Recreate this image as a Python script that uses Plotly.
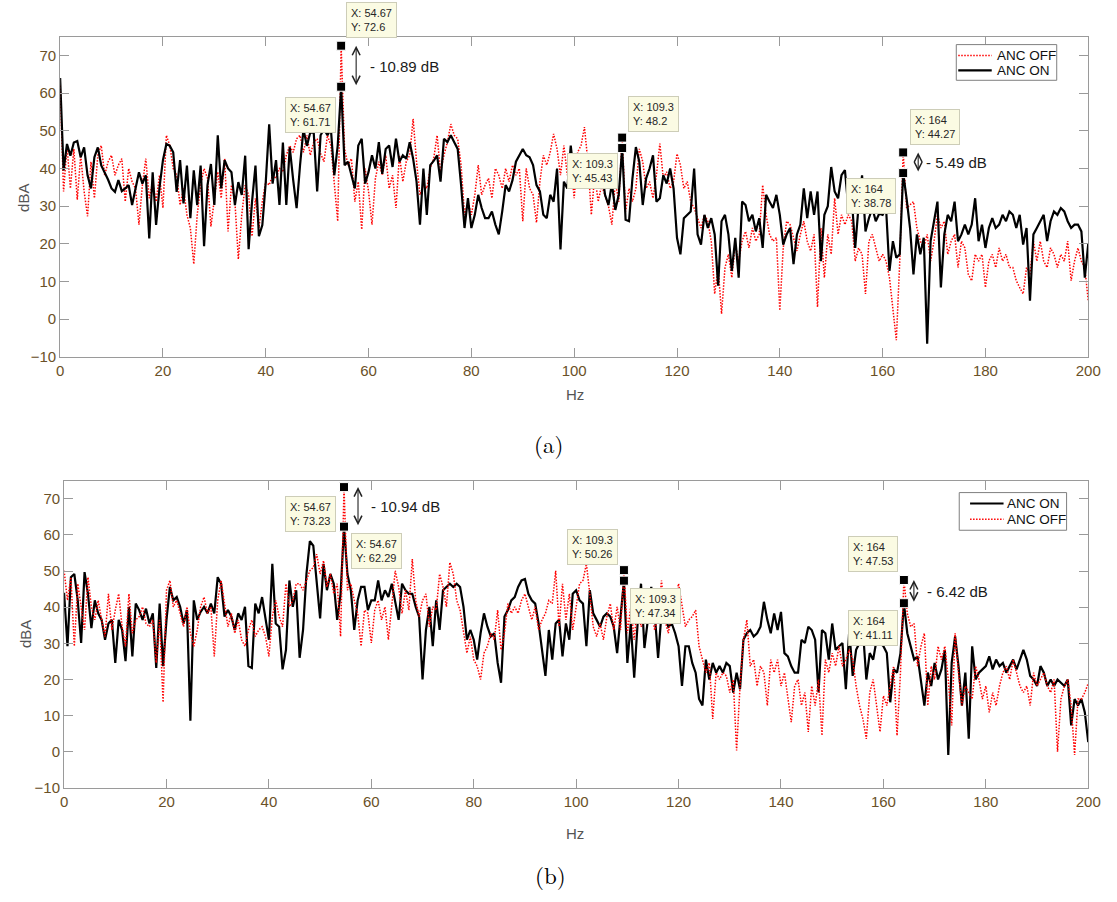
import numpy as np
import plotly.graph_objects as go

# FFT bin spacing of the spectra (Hz) and the 0-200 Hz frequency axis
FREQ_STEP = 2.0 / 3.0
freq = np.arange(301) * FREQ_STEP

# ---- (a) spectra, dBA ----
OFF_A = [
    62, 33.9, 46, 34.7, 45.2, 31.7, 43.5, 33.9, 27.3, 41.8,
    32.1, 43.5, 46.1, 38.2, 41.8, 43.5, 38.2, 40.9, 42.6, 31.2,
    40, 36.5, 34.7, 25.1, 35.6, 42.6, 32.1, 36.5, 31.2, 38.2,
    29.5, 48.8, 46.1, 40, 38.2, 30.3, 34.7, 27.7, 24.2, 14.6,
    27.7, 35.6, 40, 37.4, 24.6, 31.2, 39.1, 32.1, 42.6, 23.3,
    35.6, 31.2, 15.9, 27.7, 35.6, 33, 22, 32.1, 24.2, 31.2,
    36.5, 35.6, 38.2, 37.4, 40, 39.1, 43.5, 46.1, 44.3, 47.9,
    48.8, 44.3, 48.8, 43.5, 47, 47.9, 44, 41.8, 48.8, 46.1,
    35.6, 26, 72.6, 45.2, 40.9, 42.6, 31.2, 36.5, 23.8, 40,
    33.9, 25.1, 37.4, 41.8, 38.2, 43.5, 34.7, 38.2, 29.5, 43.5,
    36.5, 41.8, 43.5, 53.2, 41.8, 33, 35.6, 34.7, 40, 42.6,
    48.8, 39.1, 43.5, 47, 51.8, 48.8, 47.9, 40.9, 27.7, 31.2,
    27.7, 33, 40.9, 33, 35.6, 37.4, 32.1, 40, 38.2, 34.7,
    40, 36.5, 40.9, 38.2, 40, 26, 40, 34.7, 33, 25.6,
    36.5, 43.5, 40.9, 44.3, 49.2, 45.2, 38.2, 46.1, 38.2, 41.8,
    32.1, 44.3, 46.1, 51, 41.8, 27.7, 38.2, 31.2, 35.6, 33,
    30, 25.1, 36.5, 31.2, 48.2, 28.6, 34.7, 31.2, 34.7, 45.2,
    41.8, 34.7, 36.5, 32.1, 38.2, 46.6, 37.4, 39.1, 34.7, 36.5,
    43.9, 40.9, 34.7, 36.5, 31.2, 29.5, 26.8, 24.2, 27.7, 26,
    20.7, 6.7, 13.7, 1.4, 13.7, 17.2, 11, 19.8, 15.4, 20.7,
    23.3, 18.9, 24.2, 20.7, 22.5, 35.6, 27.7, 22.5, 20.7, 21.6,
    2.3, 18.9, 26, 25.1, 21.6, 18.1, 22.5, 26, 20.7, 18.1,
    22.5, 3.2, 24.2, 11, 22.5, 17.2, 32.1, 22.5, 27.7, 25.1,
    27.7, 26, 15.4, 18.9, 17.2, 6.7, 20.7, 22.5, 18.9, 15.4,
    17.2, 15.4, 11, 3.2, -5.6, 15.4, 44.27, 29.5, 30.3, 31.2,
    24.2, 20.7, 18.9, 22.5, 15.4, 20.7, 27.7, 24.2, 26, 17.2,
    20.7, 22.5, 13.7, 20.7, 18.9, 11.9, 10.2, 17.2, 15.4, 17.2,
    8.4, 15.4, 17.2, 13.7, 18.9, 15.4, 17.2, 13.7, 13.7, 10.2,
    8.4, 6.7, 13.7, 11.9, 20.7, 15.4, 20.7, 15.4, 13.7, 18.9,
    17.2, 13.7, 17.2, 15.4, 20.7, 10.2, 15.4, 18.9, 15.4, 13.7, 4.9,
]
ON_A = [
    64, 39.5, 46.5, 43.4, 46.9, 47.3, 43, 45.6, 38.2, 34.7,
    43, 45.6, 40.8, 39, 37, 34.7, 33.8, 36.9, 34, 34.7,
    35.6, 30.3, 35, 39, 36, 38.2, 21.4, 39, 25, 35,
    42.2, 46.5, 46, 44.3, 33.8, 42.2, 30.7, 40.8, 26.8, 39.5,
    30.3, 40.8, 19.4, 35.6, 41.2, 30.3, 48.8, 34.7, 42.2, 40,
    39, 30.3, 36.4, 33, 43.4, 18.6, 31.2, 40.8, 22, 25,
    36.4, 51.7, 36, 42.2, 30.3, 46.9, 30.3, 45.6, 37, 29.5,
    40.8, 50.4, 46, 49.6, 49.5, 33.9, 48.8, 50.5, 48.8, 50.5,
    38.2, 46.1, 61.71, 40.9, 41.8, 38.2, 34.7, 46.1, 47.9, 36,
    39.1, 43.5, 40, 47, 38.6, 45.2, 46.1, 40.4, 47.9, 41.8,
    43.5, 42.6, 47, 42.6, 36.5, 25.1, 40, 27.7, 40.9, 42,
    43.5, 36.5, 47.9, 47, 48.8, 47, 45.2, 35.6, 24.2, 32.1,
    24.2, 27.7, 33, 29.5, 26.8, 26.8, 28.6, 25.1, 22.5, 28.6,
    35.6, 33.9, 36.9, 41.8, 43.5, 45.2, 43.5, 43, 40.9, 35.6,
    33.9, 27.7, 26.8, 33, 31.2, 40, 18.5, 36.5, 34.7, 46.1,
    37.4, 38, 44, 35, 40, 42, 36, 34.7, 40, 33,
    30.3, 36, 29, 33, 45.43, 26.4, 26, 37.4, 45.7, 41.8,
    30.3, 37.4, 40, 43.5, 31.2, 32.1, 38.2, 36, 40, 34.7,
    21.6, 17.2, 26.8, 27.7, 28.6, 40, 22.5, 19.8, 27.7, 24.2,
    26.8, 22.5, 8.9, 26, 27.7, 22.5, 12.8, 21.6, 11, 31.2,
    30.3, 26, 27.7, 23.3, 26.8, 18.9, 33, 31.2, 29.5, 33,
    27.7, 19.8, 22.5, 24.2, 14.6, 22.5, 25.1, 34.7, 26.8, 33.9,
    27.7, 33.9, 15.4, 27.7, 30, 40.4, 33.9, 32.1, 38.2, 39.6,
    29.5, 32.1, 18.9, 30.3, 38.2, 23.3, 26.8, 29.5, 26, 28,
    27.7, 29.5, 12.8, 20.7, 16.3, 17.2, 38.78, 32, 24.2, 11.9,
    22.5, 17.2, 21.6, -6.5, 20.7, 26, 31.2, 8.4, 22.5, 27.7,
    26, 31.2, 20.7, 22.5, 25.1, 22.5, 25.1, 32.1, 20.7, 25.1,
    18.9, 24.2, 26.8, 24.2, 25.1, 27.7, 26, 28.6, 27.7, 24.2,
    27.7, 19.8, 24.2, 4.9, 22.5, 24.2, 26, 27.7, 20.7, 26,
    28.6, 27.7, 29.5, 28.6, 26, 24.2, 25.1, 25.1, 23.3, 11, 20,
]

# ---- (b) spectra, dBA ----
ON_B = [
    44, 29.2, 48.3, 49.2, 41.9, 30.1, 49.7, 43.7, 34.2, 41.9,
    38.3, 36.5, 31, 35.5, 36.5, 24.6, 36.5, 33.7, 25.1, 40.1,
    26.4, 41, 39.2, 36.5, 39.6, 35.5, 38.3, 23.2, 41, 23.7,
    36.5, 45.6, 41.9, 42.8, 40.1, 35.5, 39.2, 8.6, 41.9, 36.5,
    38.7, 40.1, 38.3, 41, 38.3, 48.3, 46.5, 37.4, 39.2, 37.4,
    33.7, 38.3, 36.5, 40.1, 23.7, 23.2, 41, 38.3, 42.8, 36.5,
    31, 52, 35.5, 34.6, 22.8, 28.2, 47.4, 40.1, 44.7, 26,
    33.7, 49.2, 58.3, 57, 47.4, 36.9, 52, 44.7, 49.2, 46.5,
    36.5, 43.7, 62.29, 49.2, 44.7, 33.7, 41.9, 45.6, 45.6, 39.2,
    41.9, 41.9, 47.4, 41.9, 44.7, 42.8, 46.5, 41.9, 36.5, 46.5,
    44.7, 43.7, 43.7, 40.1, 37.4, 20, 33.7, 40.1, 29.2, 41.9,
    33.7, 44.7, 45.6, 46.5, 45.6, 46.5, 45.6, 40.1, 31, 33.7,
    31, 25.5, 32.8, 38.3, 34.6, 31.9, 32.8, 24.6, 19.1, 37.4,
    39.2, 41.9, 42.8, 45.6, 47.4, 47.8, 43.7, 41.9, 41, 35.5,
    28.2, 21, 33.7, 25.5, 35.5, 36.5, 26.4, 35.5, 31, 43.7,
    44.7, 41.9, 41, 29.2, 44.7, 38.3, 36.5, 34.6, 37.4, 38.3,
    37.4, 34.6, 27.3, 38.3, 47.34, 24.6, 35.5, 20.5, 35.5, 46.5,
    28.7, 36.5, 45.6, 38.3, 26, 38.3, 37.4, 34.6, 35.5, 32.8,
    29.2, 18.2, 29.2, 29.2, 24.6, 21.9, 14.6, 12.8, 25.5, 20,
    24.6, 21.9, 23.7, 21.9, 24.6, 23.7, 16.4, 21.9, 17.3, 31,
    32.8, 33.7, 31.9, 32.8, 34.6, 41.5, 36.5, 32.8, 38.3, 33.7,
    38.7, 27.3, 26.4, 23.7, 21.9, 21.9, 31, 30.1, 34.6, 33.7,
    31, 16.4, 33.7, 32.8, 25.5, 35.5, 28.2, 29.2, 30.1, 17.3,
    33.7, 21, 28.2, 30.1, 33.7, 20, 27.3, 25.5, 31, 30.1,
    29.2, 27.3, 13.7, 22.8, 21.9, 27.3, 41.11, 32.8, 29.2, 25.5,
    26.4, 19.1, 12.8, 21.9, 18.2, 24.6, 20, 22.8, 28.2, -0.9,
    24.6, 31.9, 23.7, 12.8, 21.9, 3.6, 29.2, 20, 21.9, 22.8,
    23.7, 26.4, 22.8, 25.5, 23.7, 24.6, 21.9, 23.7, 25.5, 22.8,
    25.5, 28.2, 25.5, 21, 20, 18.2, 23.7, 21.9, 18.2, 20,
    18.2, 20, 19.1, 18.2, 20, 7.3, 14.6, 12.8, 14.6, 10.9, 2.7,
]
OFF_B = [
    50.1, 41.9, 48.3, 29.2, 46.5, 40.1, 33.7, 48.3, 40.1, 36.5,
    41.9, 36.5, 31.9, 43.7, 33.7, 39.2, 43.7, 34.6, 29.2, 43.7,
    32.8, 36.5, 37.4, 40.1, 35.5, 34.6, 36.5, 24.6, 36.5, 13.7,
    44.7, 47.4, 40.1, 41.9, 38.3, 34.6, 40.1, 32.8, 29.2, 33.7,
    40.1, 42.8, 38.3, 40.1, 26.4, 41.9, 47.4, 41, 34.6, 38.3,
    32.8, 36.5, 31, 29.2, 33.7, 36.5, 31.9, 33.7, 34.6, 31.9,
    26.4, 37.4, 41.9, 37.4, 34.6, 46.5, 40.1, 41.9, 46.5, 46.5,
    44.7, 47.4, 50.1, 51, 54.7, 49.2, 52.9, 45.6, 49.2, 43.7,
    46.5, 31.9, 73.23, 44.7, 46.5, 41.9, 38.3, 29.2, 39.2, 38.3,
    30.1, 39.2, 41.9, 36.5, 40.1, 31, 40.1, 50.1, 45.6, 38.3,
    44.7, 39.2, 53.3, 41.9, 37.4, 41.9, 43.7, 34.6, 40.1, 39.2,
    49.2, 45.6, 40.1, 52.4, 49.2, 41.9, 39.2, 33.7, 27.3, 31.9,
    25.5, 23.7, 20, 27.3, 29.2, 32.8, 31, 39.2, 28.2, 32.8,
    41, 38.3, 40.1, 38.3, 41.9, 43.7, 40.1, 36.5, 40.1, 33.7,
    36.5, 38.3, 41.9, 41, 50.1, 34.6, 46.5, 36.5, 43.7, 33.7,
    40.1, 46.5, 47.4, 52, 43.7, 34.6, 31.9, 35.5, 31, 37.4,
    41, 33.7, 40.1, 33.7, 50.26, 32.8, 40.1, 31, 41, 34.6,
    36.5, 35.5, 39.2, 33.7, 37.4, 47.4, 36.5, 32.8, 38.3, 41.9,
    46.5, 40.1, 34.6, 36.5, 37.4, 39.2, 29.2, 25.5, 21.9, 24.6,
    9.1, 21.9, 20, 21.9, 21, 16.4, 20, 0.4, 18.2, 31,
    36.5, 23.7, 25.5, 18.2, 23.7, 21.9, 12.8, 25.5, 21.9, 25.5,
    18.2, 21.9, 14.6, 8.2, 18.2, 20, 12.8, 16.4, 5.5, 18.2,
    12.8, 20, 4.5, 25.5, 21.9, 27.3, 23.7, 29.2, 23.7, 25.5,
    28.2, 25.5, 18.2, 12.8, 9.1, 3.6, 16.4, 20, 12.8, 5.5,
    15.5, 12.8, 18.2, 23.7, 4.5, 21.9, 47.53, 38.3, 34.6, 35.5,
    23.7, 29.2, 32.8, 12.8, 23.7, 20, 29.2, 25.5, 29.2, 20,
    7.3, 32.8, 21.9, 12.8, 18.2, 16.4, 14.6, 23.7, 20, 14.6,
    18.2, 10.9, 16.4, 12.8, 18.2, 21.9, 23.7, 20, 25.5, 21.9,
    18.2, 16.4, 18.2, 12.8, 21.9, 18.2, 20, 21.9, 18.2, 16.4,
    20, 0, 14.6, 18.2, 20, 12.8, -0.9, 14.6, 14.6, 16.4, 19,
]

for series in (OFF_A, ON_A, ON_B, OFF_B):
    assert len(series) == len(freq)

# bins of the marked harmonics: 54.67 Hz, 109.3 Hz, 164 Hz
PEAK_BINS = [82, 164, 246]
X_TICKS = list(range(0, 201, 20))
Y_TICKS = list(range(-10, 71, 10))

W, H = 1117, 902
AX_GRAY = "#9a9a9a"
TICK_COLOR = "#6a5128"
LABEL_COLOR = "#555555"
NARROW = "Liberation Sans Narrow, Arial Narrow, Liberation Sans, sans-serif"
SANS = "Liberation Sans, Arial, sans-serif"
SERIF = "Latin Modern Roman, CMU Serif, Liberation Serif, DejaVu Serif, serif"
TIP_BG = "#fbfbe3"
TIP_BORDER = "#cdcdb8"

STYLE = {
    "ANC OFF": dict(color="#ff0000", width=1.5, dash="1.5px,1.5px"),
    "ANC ON": dict(color="#000000", width=2.2, dash="solid"),
}


def px_x(px):
    return px / W


def px_y(py):
    return 1 - py / H


panels = [
    dict(
        xa="x", ya="y",
        xdom=(px_x(57), px_x(1101)), ydom=(px_y(360), px_y(37)),
        series=[("ANC OFF", OFF_A), ("ANC ON", ON_A)],
        tips=[
            ("ANC OFF", 0, "left", "bottom", 5, 8),
            ("ANC ON", 0, "right", "top", -5, -10),
            ("ANC OFF", 1, "left", "bottom", 6, 6),
            ("ANC ON", 1, "right", "top", -4, -5),
            ("ANC OFF", 2, "left", "bottom", 7, 7),
            ("ANC ON", 2, "right", "top", -7, -5),
        ],
        # (peak index, arrow x-offset px, label x-offset px)
        arrows=[(0, 15, 27), (2, 15, 21)],
        hz=(580, 398), dba=(20, 200), caption=("(a)", 553, 447),
        # legend box (left, top, right, bottom), sample x-range, text x, row y's
        legend=dict(box=(967, 45, 1069, 81), sample=(969, 1003), text_x=1006,
                    rows=[("ANC OFF", 56), ("ANC ON", 71)]),
    ),
    dict(
        xa="x2", ya="y2",
        xdom=(px_x(61), px_x(1101)), ydom=(px_y(795), px_y(485)),
        series=[("ANC ON", ON_B), ("ANC OFF", OFF_B)],
        tips=[
            ("ANC OFF", 0, "right", "top", -8, -9),
            ("ANC ON", 0, "left", "top", 7, -6),
            ("ANC OFF", 1, "right", "bottom", -6, 5),
            ("ANC ON", 1, "left", "top", 6, -7),
            ("ANC OFF", 2, "right", "bottom", -6, 8),
            ("ANC ON", 2, "right", "top", -6, -7),
        ],
        arrows=[(0, 14, 25), (2, 10, 21)],
        hz=(580, 841), dba=(22, 640), caption=("(b)", 555, 882),
        legend=dict(box=(970, 497, 1079, 535), sample=(981, 1015), text_x=1016,
                    rows=[("ANC ON", 508), ("ANC OFF", 524)]),
    ),
]

fig = go.Figure()
annotations = []
shapes = []
layout_axes = {}

for p in panels:
    data = dict(p["series"])
    # spectra
    for name, values in p["series"]:
        fig.add_trace(go.Scatter(
            x=freq, y=values, mode="lines", name=name,
            line=STYLE[name], xaxis=p["xa"], yaxis=p["ya"],
            showlegend=False, hoverinfo="skip",
        ))
    # data-tip markers and boxes
    mx, my = [], []
    for name, k, xanc, yanc, xs, ys in p["tips"]:
        b = PEAK_BINS[k]
        fx, fy = freq[b], data[name][b]
        mx.append(fx)
        my.append(fy)
        annotations.append(dict(
            x=fx, y=fy, xref=p["xa"], yref=p["ya"], showarrow=False,
            text=f"X: {fx:.4g}<br>Y: {fy:.4g}", align="left",
            xanchor=xanc, yanchor=yanc, xshift=xs, yshift=ys,
            bgcolor=TIP_BG, bordercolor=TIP_BORDER, borderwidth=1, borderpad=4,
            font=dict(family=SANS, size=11, color="#262626"),
        ))
    fig.add_trace(go.Scatter(
        x=mx, y=my, mode="markers", showlegend=False, hoverinfo="skip",
        marker=dict(symbol="square", size=9, color="#000000",
                    line=dict(color="#ffffff", width=1)),
        xaxis=p["xa"], yaxis=p["ya"],
    ))
    # level-difference arrows
    for k, ax_off, lab_off in p["arrows"]:
        b = PEAK_BINS[k]
        hi, lo = data["ANC OFF"][b], data["ANC ON"][b]
        annotations.append(dict(
            x=freq[b], y=hi, ax=freq[b], ay=lo,
            xref=p["xa"], yref=p["ya"], axref=p["xa"], ayref=p["ya"],
            xshift=ax_off, text="", showarrow=True,
            arrowhead=5, startarrowhead=5, arrowside="end+start",
            arrowsize=1.4, startarrowsize=1.4, arrowwidth=1.1,
            arrowcolor="#222222",
        ))
        annotations.append(dict(
            x=freq[b], y=(hi + lo) / 2, xref=p["xa"], yref=p["ya"],
            xshift=lab_off, showarrow=False, xanchor="left", yanchor="middle",
            text=f"- {hi - lo:.2f} dB",
            font=dict(family=SANS, size=15, color="#1a1a1a"),
        ))
    # legend box with line samples
    lg = p["legend"]
    x0, y0, x1, y1 = lg["box"]
    shapes.append(dict(
        type="rect", xref="paper", yref="paper",
        x0=px_x(x0), x1=px_x(x1), y0=px_y(y1), y1=px_y(y0),
        line=dict(color="#7f7f7f", width=1), fillcolor="#ffffff", layer="above",
    ))
    for name, ry in lg["rows"]:
        st = STYLE[name]
        shapes.append(dict(
            type="line", xref="paper", yref="paper",
            x0=px_x(lg["sample"][0]), x1=px_x(lg["sample"][1]),
            y0=px_y(ry), y1=px_y(ry), layer="above",
            line=dict(color=st["color"], width=st["width"], dash=st["dash"]),
        ))
        annotations.append(dict(
            x=px_x(lg["text_x"]), y=px_y(ry), xref="paper", yref="paper",
            text=name, showarrow=False, xanchor="left", yanchor="middle",
            font=dict(family=SANS, size=13.5, color="#111111"),
        ))
    # axis titles and caption
    annotations.append(dict(
        x=px_x(p["hz"][0]), y=px_y(p["hz"][1]), xref="paper", yref="paper",
        text="Hz", showarrow=False, xanchor="center", yanchor="middle",
        font=dict(family=NARROW, size=15, color=LABEL_COLOR),
    ))
    annotations.append(dict(
        x=px_x(p["dba"][0]), y=px_y(p["dba"][1]), xref="paper", yref="paper",
        text="dBA", showarrow=False, textangle=-90,
        xanchor="center", yanchor="middle",
        font=dict(family=NARROW, size=15, color=LABEL_COLOR),
    ))
    cap, cx, cy = p["caption"]
    annotations.append(dict(
        x=px_x(cx), y=px_y(cy), xref="paper", yref="paper",
        text=cap, showarrow=False, xanchor="center", yanchor="middle",
        font=dict(family=SERIF, size=23, color="#000000"),
    ))

    axis_common = dict(
        showline=True, linecolor=AX_GRAY, linewidth=1, mirror="ticks",
        ticks="inside", ticklen=9, tickwidth=1, tickcolor=AX_GRAY,
        showgrid=False, zeroline=False,
        tickfont=dict(family=NARROW, size=15, color=TICK_COLOR),
    )
    xkey = "xaxis" if p["xa"] == "x" else "xaxis2"
    ykey = "yaxis" if p["ya"] == "y" else "yaxis2"
    layout_axes[xkey] = dict(
        axis_common, domain=list(p["xdom"]), range=[0, 200],
        tickvals=X_TICKS, anchor=p["ya"],
    )
    layout_axes[ykey] = dict(
        axis_common, domain=list(p["ydom"]), range=[-10, 75],
        tickvals=Y_TICKS, anchor=p["xa"],
    )

fig.update_layout(
    width=W, height=H, margin=dict(l=0, r=0, t=0, b=0),
    paper_bgcolor="#ffffff", plot_bgcolor="#ffffff",
    showlegend=False, annotations=annotations, shapes=shapes,
    **layout_axes,
)

# the page body should not add its own margin around the fixed-size figure
fig.write_html("out.html", post_script="document.body.style.margin = '0';")
